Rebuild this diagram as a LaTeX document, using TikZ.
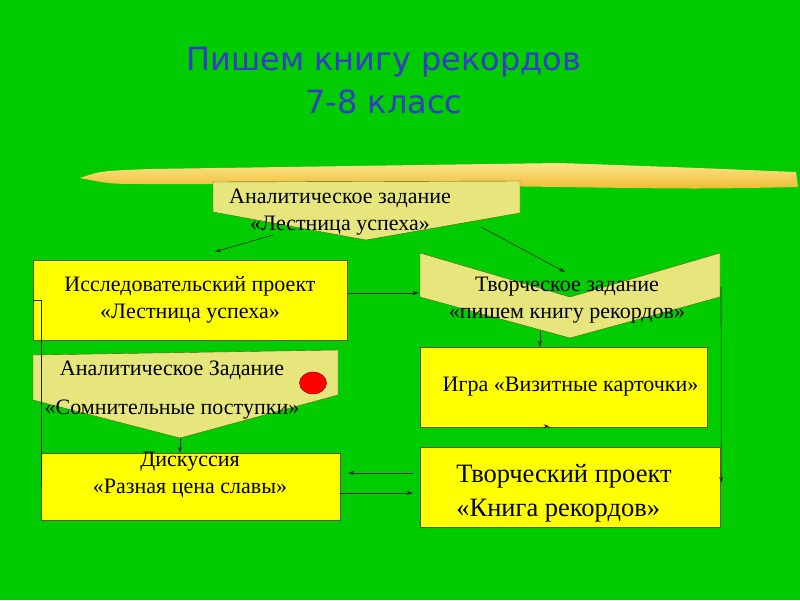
\documentclass[tikz,border=0pt]{standalone}
\usepackage{fontspec}
\setmainfont{Liberation Serif}
\newfontfamily\titlefont{DejaVu Sans}
\usetikzlibrary{arrows.meta,positioning}

\definecolor{bggreen}{RGB}{0,204,0}
\definecolor{boxyellow}{RGB}{255,255,0}
\definecolor{paleyellow}{RGB}{230,230,125}
\definecolor{edgeolive}{RGB}{90,90,30}
\definecolor{titleblue}{RGB}{55,60,200}
\definecolor{brushgold}{RGB}{240,188,50}
\definecolor{brushlight}{RGB}{250,228,140}

\begin{document}
\begin{tikzpicture}[
    x=1pt, y=-1pt,
    font=\fontsize{22}{27}\selectfont,
    >={Stealth[length=6pt,width=4pt]},
    box/.style={draw=edgeolive, fill=boxyellow, align=center, inner sep=0pt},
    tag/.style={draw=edgeolive, fill=paleyellow},
    txt/.style={align=center, inner sep=0pt},
    link/.style={draw=black!85, line width=0.6pt}
]
% фон
\fill[bggreen] (0,0) rectangle (800,600);
\useasboundingbox (0,0) rectangle (800,600);

\node[txt, text=titleblue, font=\titlefont\fontsize{32}{43}\selectfont] (title) at (384,81) {Пишем книгу рекордов\\7-8 класс};

% мазок кистью
\shade[top color=brushlight, bottom color=brushgold] (80,178) .. controls (100,171) .. (150,169) -- (420,165) -- (560,163) .. controls (700,168) .. (796,172) -- (798,187) .. controls (700,189) .. (560,187) -- (420,185) -- (150,184) .. controls (110,184) .. (80,178) -- cycle;

% блоки
\draw[tag] (213,182) -- (520,181) -- (520,213) -- (366,240) -- (213,212) -- cycle;
\node[txt] (analit) at (340,212) {Аналитическое задание\\«Лестница успеха»};

\node[box, minimum width=314pt, minimum height=80pt] (issl) at (190,300) {Исследовательский проект\\«Лестница успеха»};

\draw[tag] (420,253) -- (570,297) -- (720,253) -- (720,297) -- (570,338) -- (420,297) -- cycle;
\node[txt] (tvorz) at (567,300) {Творческое задание\\«пишем книгу рекордов»};

\node[box, minimum width=287pt, minimum height=80pt] (igra) at (563.5,387) {\hspace*{14pt}Игра «Визитные карточки»};

\draw[tag] (33,355) -- (338,350) -- (338,395) -- (180,438) -- (33,400) -- cycle;
\node[txt] (somn) at (172,390) {Аналитическое Задание\\[12pt]«Сомнительные поступки»};
\draw[draw=red!50!black, fill=red] (313,383) ellipse [x radius=13.5, y radius=11];

\node[box, minimum width=299pt, minimum height=67pt] (disk) at (190.5,486.5) {};
\node[txt] (disktxt) at (190,475) {Дискуссия\\«Разная цена славы»};

\node[box, minimum width=300pt, minimum height=80pt, align=left, font=\fontsize{26.5}{34}\selectfont] (kniga) at (570,487) {\rule{0pt}{30pt}Творческий проект\hspace*{12pt}\\«Книга рекордов»};

% связи
\coordinate (an-l) at (273,235);
\coordinate (an-r) at (481,227);
\coordinate (tz-top) at (565,272);
\coordinate (tz-w) at (419,293);
\coordinate (tz-b) at (540,331);
\coordinate (tz-e) at (721,287);
\coordinate (somn-tip) at (180,438);

\draw[link,->] (an-l) -- ([xshift=25pt,yshift=8pt]issl.north);
\draw[link,->] (an-r) -- (tz-top);
\draw[link,->] ([yshift=7pt]issl.east) -- (tz-w);
\draw[link] (issl.west) -- ++(8,0) -- (disk.west);
\draw[link,->] (tz-b) -- (tz-b |- igra.north);
\draw[link,->] (somn-tip) -- (somn-tip |- disk.north);
\draw[link,->] ([xshift=-18pt,yshift=1pt]igra.south) -- ([xshift=-14pt,yshift=1pt]igra.south);
\draw[link,->] (tz-e) -- ([xshift=1pt,yshift=4pt]kniga.east);
\draw[link,->] ([xshift=-7pt,yshift=14pt]kniga.west) -- ([xshift=8pt,yshift=13.5pt]disk.east);
\draw[link,->] ([yshift=-6.5pt]disk.east) -- ([xshift=-7pt,yshift=-6pt]kniga.west);
\end{tikzpicture}
\end{document}
